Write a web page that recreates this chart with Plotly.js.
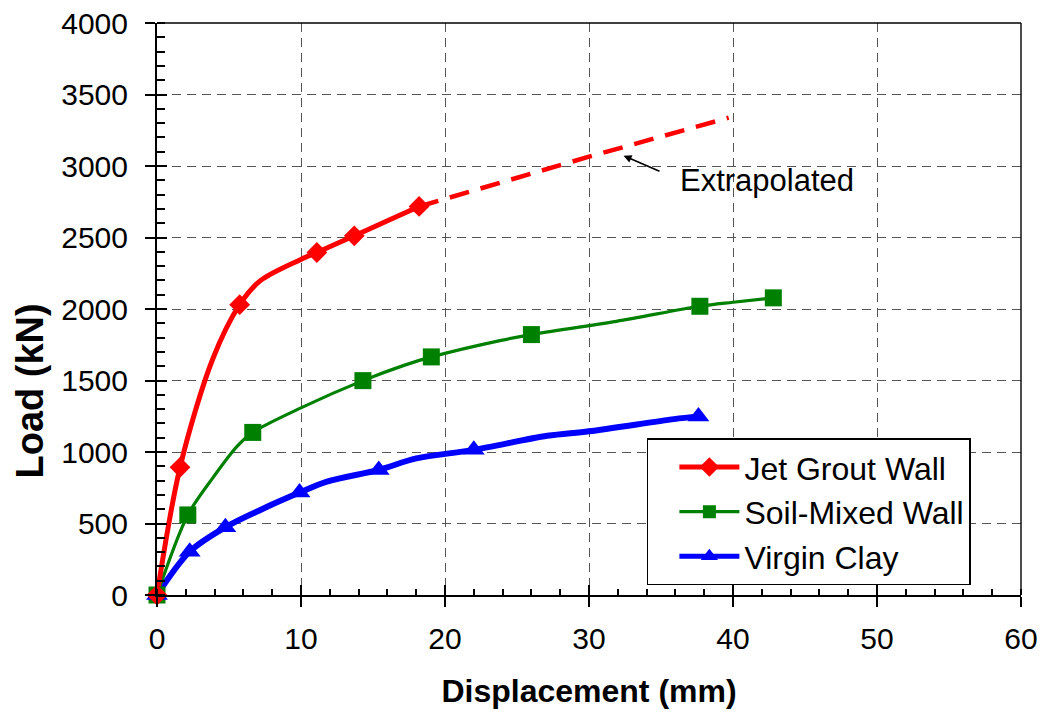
<!DOCTYPE html>
<html>
<head>
<meta charset="utf-8">
<script src="https://cdn.plot.ly/plotly-3.0.1.min.js"></script>
<style>
  html, body { margin: 0; padding: 0; background: #fff; }
  #chart { width: 1042px; height: 715px; }
</style>
</head>
<body>
<div id="chart"></div>
<script>
// ---------------- data ----------------
// Jet Grout Wall: measured points (markers)
const jetX = [0, 1.6, 5.74, 11.1, 13.7, 18.2];
const jetY = [0, 893, 2030, 2395, 2512, 2717];
// Jet Grout Wall: smoothed curve through the test readings
const jetCurveX = [0, 1.6, 3.85, 5.74, 7.2, 9.95, 11.1, 13.7, 15.7, 18.2];
const jetCurveY = [0, 893, 1645, 2030, 2200, 2345, 2395, 2512, 2603, 2717];
// Jet Grout Wall: extrapolated part (dashed)
const jetExtX = [18.2, 30, 39.7];
const jetExtY = [2717, 3065, 3338];

// Soil-Mixed Wall
const soilX = [0, 2.14, 6.65, 14.3, 19.05, 26.0, 37.7, 42.8];
const soilY = [0, 560, 1137, 1499, 1665, 1821, 2019, 2078];
const soilCurveX = [0, 2.14, 3.94, 5.56, 6.65, 10.07, 14.3, 17.1, 19.05, 23.9, 26.0, 31.9, 37.7, 40.0, 42.8];
const soilCurveY = [0, 560, 828, 1039, 1137, 1312, 1499, 1604, 1665, 1781, 1821, 1914, 2019, 2047, 2078];

// Virgin Clay
const clayX = [0, 2.27, 4.75, 9.9, 15.4, 22.0, 37.6];
const clayY = [0, 303, 474, 716, 875, 1015, 1249];
const clayCurveX = [0, 2.27, 4.75, 7.18, 9.9, 11.8, 15.4, 18.0, 22.0, 27.1, 30.0, 35.9, 37.6];
const clayCurveY = [0, 303, 474, 595, 716, 793, 875, 955, 1015, 1113, 1145, 1230, 1249];

const seriesNames = ['Jet Grout Wall', 'Soil-Mixed Wall', 'Virgin Clay'];
const xTitle = 'Displacement (mm)';
const yTitle = 'Load (kN)';
const noteText = 'Extrapolated';
// annotation anchor points (data coords)
const noteTextPos = [36.2, 2900];
const noteArrowHead = [32.4, 3072];
const noteArrowTail = [35.0, 2958];

// ---------------- styles ----------------
const RED = '#FF0000', GREEN = '#008000', BLUE = '#0000FF';
const FONT = 'Liberation Sans, Arial, sans-serif';

function curve(x, y, color, width, dash) {
  return { x, y, type: 'scatter', mode: 'lines', showlegend: false, hoverinfo: 'skip',
    line: { color, width, shape: dash ? 'linear' : 'spline', smoothing: 0.9, dash: dash || 'solid' } };
}
function pts(x, y, color, symbol, size) {
  return { x, y, type: 'scatter', mode: 'markers', showlegend: false, cliponaxis: false,
    marker: { color, symbol, size, line: { width: 0 } } };
}
function legendItem(name, color, width, symbol, size) {
  return { x: [null], y: [null], xaxis: 'x2', yaxis: 'y2', type: 'scatter', mode: 'lines+markers', name,
    line: { color, width }, marker: { color, symbol, size } };
}

const traces = [
  curve(clayCurveX, clayCurveY, BLUE, 6),
  curve(soilCurveX, soilCurveY, GREEN, 3.2),
  curve(jetCurveX, jetCurveY, RED, 5),
  curve(jetExtX, jetExtY, RED, 4.5, '20px,12px'),
  pts(soilX, soilY, GREEN, 'square', 17),
  pts(clayX, clayY, BLUE, 'triangle-up', 19),
  pts(jetX, jetY, RED, 'diamond', 16),
  legendItem(seriesNames[0], RED, 5, 'diamond', 15),
  legendItem(seriesNames[1], GREEN, 3.2, 'square', 13),
  legendItem(seriesNames[2], BLUE, 5, 'triangle-up', 15)
];

const tickFont = { family: FONT, size: 30, color: '#000' };
const gridStyle = { showgrid: true, gridcolor: '#555', gridwidth: 1.2, griddash: '9px,6px' };

const layout = {
  width: 1042, height: 715,
  margin: { l: 157, r: 21, t: 23, b: 120 },
  paper_bgcolor: '#fff', plot_bgcolor: '#fff',
  font: { family: FONT, color: '#000' },
  showlegend: true,
  xaxis: Object.assign({
    range: [0, 60], dtick: 10, tick0: 0, zeroline: false,
    showline: true, linecolor: '#000', linewidth: 2,
    ticks: 'outside', ticklen: 10, tickwidth: 2, tickcolor: '#000',
    ticklabelstandoff: 6,
    minor: { dtick: 2, ticks: 'inside', ticklen: 6, tickwidth: 1.5, tickcolor: '#000', showgrid: false },
    tickfont: tickFont,
    title: { text: xTitle, font: { family: FONT, size: 32, color: '#000', weight: 'bold' }, standoff: 26 }
  }, gridStyle),
  yaxis: Object.assign({
    range: [0, 4000], dtick: 500, tick0: 0, zeroline: false,
    showline: true, linecolor: '#000', linewidth: 2,
    ticks: 'outside', ticklen: 10, tickwidth: 2, tickcolor: '#000',
    ticklabelstandoff: 11,
    minor: { dtick: 100, ticks: 'inside', ticklen: 8, tickwidth: 1.5, tickcolor: '#000', showgrid: false },
    tickfont: tickFont
  }, gridStyle),
  xaxis2: {
    overlaying: 'x', anchor: 'y', side: 'bottom', range: [0, 60], dtick: 10, tick0: 0,
    ticks: 'inside', ticklen: 10, tickwidth: 2, tickcolor: '#000',
    showticklabels: false, showgrid: false, zeroline: false, showline: false
  },
  yaxis2: {
    overlaying: 'y', anchor: 'x', side: 'left', range: [0, 4000], dtick: 500, tick0: 0,
    ticks: 'inside', ticklen: 10, tickwidth: 2, tickcolor: '#000',
    showticklabels: false, showgrid: false, zeroline: false, showline: false
  },
  legend: {
    x: 0.567, y: 0.274, xanchor: 'left', yanchor: 'top',
    bgcolor: '#fff', bordercolor: '#000', borderwidth: 1.5,
    font: { family: FONT, size: 32, color: '#000' },
    itemwidth: 60, indentation: 26, tracegroupgap: 0,
    entrywidth: 330, entrywidthmode: 'pixels'
  },
  shapes: [
    { type: 'line', xref: 'paper', yref: 'paper', x0: 0, x1: 1, y0: 1, y1: 1, line: { color: '#000', width: 1.4 } },
    { type: 'line', xref: 'paper', yref: 'paper', x0: 1, x1: 1, y0: 0, y1: 1, line: { color: '#000', width: 1.4 } }
  ],
  annotations: [
    { x: -0.147, y: 1430, xref: 'paper', yref: 'y', text: '<b>' + yTitle + '</b>', showarrow: false,
      textangle: -90, xanchor: 'center', yanchor: 'middle',
      font: { family: FONT, size: 38, color: '#000' } },
    { x: noteTextPos[0], y: noteTextPos[1], xref: 'x', yref: 'y', text: noteText, showarrow: false,
      xanchor: 'left', yanchor: 'middle', font: { family: FONT, size: 31, color: '#000' } },
    { x: noteArrowHead[0], y: noteArrowHead[1], ax: noteArrowTail[0], ay: noteArrowTail[1],
      xref: 'x', yref: 'y', axref: 'x', ayref: 'y', text: '', showarrow: true,
      arrowhead: 2, arrowsize: 1, arrowwidth: 1.6, arrowcolor: '#000' }
  ]
};

Plotly.newPlot('chart', traces, layout, { displayModeBar: false, responsive: false });
</script>
</body>
</html>
